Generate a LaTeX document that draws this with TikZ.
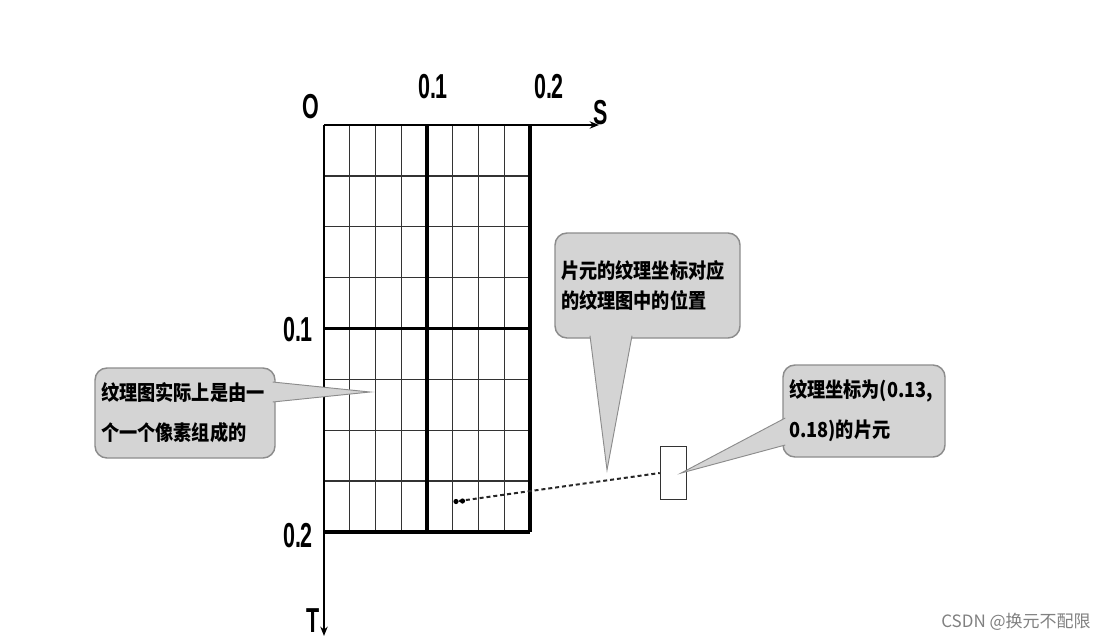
\documentclass[tikz,border=0pt]{standalone}
\usepackage{fontspec}
\setsansfont{Liberation Sans}
\newfontfamily\cjk{Noto Sans CJK SC}
\usetikzlibrary{arrows.meta,calc}
\newcommand\cnline[1]{\scalebox{0.88}[1]{#1}}
\tikzset{
  thingrid/.style={draw=black!80, line width=0.95pt},
  thickgrid/.style={draw=black, line width=2.3pt},
  axisline/.style={draw=black, line width=1.8pt, -{Stealth[length=7pt,width=5.5pt]}},
  axlabel/.style={font=\sffamily\bfseries\fontsize{26}{26}\selectfont, xscale=0.62, transform shape, inner sep=0pt},
  callout/.style={draw=black!45, line width=1.1pt, fill=black!17, rounded corners=9pt, align=left,
    inner xsep=4.5pt, font=\cjk\bfseries\fontsize{15.5}{30}\selectfont},
  pointerfill/.style={fill=black!17},
  pointerline/.style={draw=black!45, line width=0.7pt},
  fragbox/.style={draw=black!80, line width=1.1pt, fill=white, minimum width=19.5pt, minimum height=39.75pt, inner sep=0pt},
  dotline/.style={draw=black!85, line width=1.5pt, dash pattern=on 3pt off 2.2pt},
}
\begin{document}
\begin{tikzpicture}[x=0.75pt,y=-0.75pt]
\useasboundingbox (0,0) rectangle (1116,642);
% thin grid
\foreach \i in {1,2,3,5,6,7} \draw[thingrid] ({324+25.75*\i},125) -- ({324+25.75*\i},532);
\foreach \j in {1,2,3,5,6,7} \draw[thingrid] (324,{125+50.875*\j}) -- (530,{125+50.875*\j});
% thick grid
\draw[thickgrid] (427,125) -- (427,532);
\draw[thickgrid] (530,125) -- (530,532);
\draw[thickgrid] (324,328.5) -- (530,328.5);
\draw[thickgrid] (324,532) -- (530,532);
% axes
\coordinate (origin) at (324,125);
\coordinate (send) at (599,125);
\coordinate (tend) at (324,636);
\draw[axisline] (origin) -- (send);
\draw[axisline] (origin) -- (tend);
% axis labels
\node[axlabel] (lO) at (311,107) {O};
\node[axlabel] (ls1) at (433,87) {0.1};
\node[axlabel] (ls2) at (549,87) {0.2};
\node[axlabel] (lS) at (601,113) {S};
\node[axlabel] (lt1) at (298,330) {0.1};
\node[axlabel] (lt2) at (298,536) {0.2};
\node[axlabel] (lT) at (313,621) {T};
% fragment box and dotted line
\node[fragbox] (frag) at (673.5,473) {};
\coordinate (pstart) at (459,501);
\draw[dotline] (pstart) -- (frag.west);
\fill (456,501.5) circle (2.6);
\fill (462.5,501) circle (2.6);
% callout 1
\node[callout, text width=126pt, minimum height=67.5pt] (c1) at (185,413)
  {\cnline{纹理图实际上是由一}\\\cnline{个一个像素组成的}};
\coordinate (tip1) at (370,392);
\coordinate (a1) at ($(c1.east)+(-3,-31)$);
\coordinate (b1) at ($(c1.east)+(-3,-11)$);
\fill[pointerfill] (a1) -- (tip1) -- (b1) -- cycle;
\draw[pointerline] (a1) -- (tip1) -- (b1);
% callout 2
\node[callout, text width=129.75pt, minimum height=78.75pt, font=\cjk\bfseries\fontsize{15.5}{22}\selectfont] (c2) at (647.5,285.5)
  {\cnline{片元的纹理坐标对应}\\\cnline{的纹理图中的位置}\\[-8pt]};
\coordinate (tip2) at (607,470);
\coordinate (a2) at ($(c2.south)+(-57.5,-3)$);
\coordinate (b2) at ($(c2.south)+(-15.5,-3)$);
\fill[pointerfill] (a2) -- (tip2) -- (b2) -- cycle;
\draw[pointerline] (a2) -- (tip2) -- (b2);
% callout 3
\node[callout, text width=112.5pt, minimum height=69pt] (c3) at (864,411)
  {\cnline{纹理坐标为(0.13,}\\\cnline{0.18)的片元}};
\coordinate (tip3) at ($(frag.east)+(-6,0)$);
\coordinate (a3) at ($(c3.west)+(3,7)$);
\coordinate (b3) at ($(c3.west)+(3,34)$);
\fill[pointerfill] (a3) -- (tip3) -- (b3) -- cycle;
\draw[pointerline] (a3) -- (tip3) -- (b3);
% watermark
\node[font=\cjk\fontsize{12.75}{12.75}\selectfont, text=black!50, inner sep=0pt] (wm) at (1016,622) {CSDN @换元不配限};
\end{tikzpicture}
\end{document}
